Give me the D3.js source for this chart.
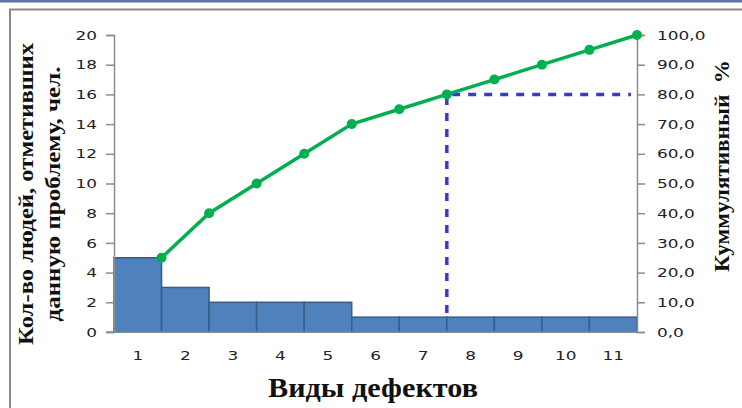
<!DOCTYPE html>
<html><head><meta charset="utf-8">
<script src="https://cdn.jsdelivr.net/npm/d3@7"></script>
<style>html,body{margin:0;padding:0;background:#fff;}svg{display:block;}</style>
</head><body>
<svg id="c" width="742" height="408"></svg>
<script>
const categories = ["1","2","3","4","5","6","7","8","9","10","11"];
const counts = [5,3,2,2,2,1,1,1,1,1,1];
const cumulative = [25,40,50,60,70,75,80,85,90,95,100];
const leftTicks = [0,2,4,6,8,10,12,14,16,18,20];
const rightTicks = [0,10,20,30,40,50,60,70,80,90,100];
const threshold = 80;
const thresholdIndex = 6;

const svg = d3.select("#c");
// frame
svg.append("rect").attr("x",0).attr("y",0).attr("width",742).attr("height",2.5).attr("fill","#5b76a6");
svg.append("path").attr("d","M10,408 V9.5 H742").attr("fill","none").attr("stroke","#8a8a8a").attr("stroke-width",2);

const L = 114, R = 637, T = 35, B = 332;
const x = d3.scaleBand().domain(categories).range([L,R]).padding(0);
const yL = d3.scaleLinear().domain([0,20]).range([B,T]);
const yR = d3.scaleLinear().domain([0,100]).range([B,T]);

// threshold dashed lines (behind bars)
const px = x(categories[thresholdIndex]) + x.bandwidth();
svg.append("path")
  .attr("d",`M${px},${B-3}V${yR(threshold)}H${R-6}`)
  .attr("fill","none").attr("stroke","#3a3ad0").attr("stroke-width",3.5)
  .attr("stroke-dasharray","8,8");

// bars
svg.append("g").selectAll("rect").data(counts).join("rect")
  .attr("x",(d,i)=>x(categories[i]))
  .attr("y",d=>yL(d))
  .attr("width",x.bandwidth())
  .attr("height",d=>B-yL(d))
  .attr("fill","#4f81bd").attr("stroke","#385d8a").attr("stroke-width",1.5);

// axes
const axStyle = g=>{
  g.select(".domain").attr("stroke","#8c8c8c").attr("stroke-width",1.5);
  g.selectAll(".tick line").attr("stroke","#8c8c8c").attr("stroke-width",1.5);
  g.selectAll("text").attr("fill","#222").attr("font-family","'DejaVu Sans', Verdana, sans-serif").attr("font-size","13px")
    .each(function(){ const w=this.getComputedTextLength(); d3.select(this).attr("textLength",w*1.3).attr("lengthAdjust","spacingAndGlyphs"); });
};
svg.append("g").attr("transform",`translate(${L},0)`)
  .call(d3.axisLeft(yL).tickValues(leftTicks).tickSize(8).tickSizeOuter(8).tickPadding(9)).call(axStyle);
svg.append("g").attr("transform",`translate(${R},0)`)
  .call(d3.axisRight(yR).tickValues(rightTicks).tickSize(8).tickSizeOuter(8).tickPadding(12)
    .tickFormat(d=>d3.format(".1f")(d).replace(".",","))).call(axStyle);
const xg = svg.append("g").attr("transform",`translate(0,${B})`)
  .call(d3.axisBottom(x).tickSize(0).tickPadding(19)).call(axStyle);
xg.select(".domain").attr("d",`M${L-8},0H${R}`);

// cumulative line
const lx = (d,i)=>x(categories[i]) + x.bandwidth();
svg.append("path").datum(cumulative)
  .attr("d",d3.line().x(lx).y(d=>yR(d)))
  .attr("fill","none").attr("stroke","#00b050").attr("stroke-width",3.5);
svg.append("g").selectAll("circle").data(cumulative).join("circle")
  .attr("cx",lx).attr("cy",d=>yR(d)).attr("r",5).attr("fill","#00b050");

// titles
const serif = "'Liberation Serif', 'Times New Roman', serif";
const title = (tr, txt, size, len) => svg.append("text").attr("transform",tr)
  .attr("text-anchor","middle").attr("font-family",serif).attr("font-weight","bold")
  .attr("font-size",size+"px").attr("fill","#111")
  .attr("textLength",len).attr("lengthAdjust","spacingAndGlyphs").text(txt);
title("translate(33,194) rotate(-90)", "Кол-во людей, отметивших", 20, 302);
title("translate(60,194) rotate(-90)", "данную проблему, чел.", 20, 255);
title("translate(729,166) rotate(-90)", "Куммулятивный  %", 20, 212).attr("xml:space","preserve");
title("translate(373,397)", "Виды дефектов", 27, 210);
</script>
</body></html>
